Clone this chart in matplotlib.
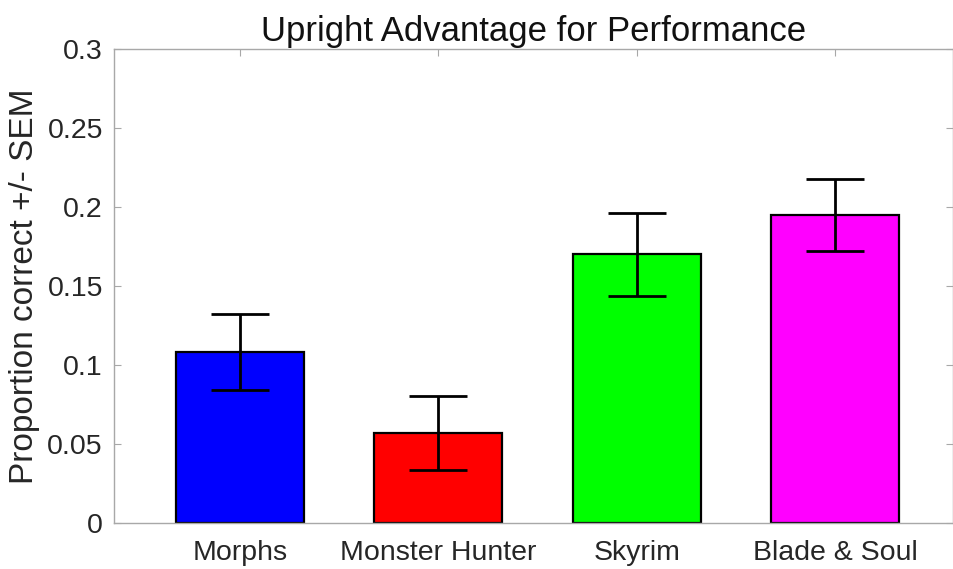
import matplotlib.pyplot as plt
import numpy as np

plt.rcParams['font.family'] = ['Liberation Sans', 'DejaVu Sans']

categories = ['Morphs', 'Monster Hunter', 'Skyrim', 'Blade & Soul']
values = [0.108, 0.057, 0.170, 0.195]
sem = [0.024, 0.0235, 0.0265, 0.023]
colors = ['#0000ff', '#ff0000', '#00ff00', '#ff00ff']
yticks = [0, 0.05, 0.1, 0.15, 0.2, 0.25, 0.3]
ytick_labels = ['0', '0.05', '0.1', '0.15', '0.2', '0.25', '0.3']

fig = plt.figure(figsize=(9.54, 5.69), dpi=100)
ax = fig.add_axes([0.1195, 0.0808, 0.8795, 0.8331])

x = np.arange(1, len(categories) + 1)
ax.bar(x, values, width=0.646, color=colors, edgecolor='black', linewidth=1.6, zorder=2)
ax.errorbar(x, values, yerr=sem, fmt='none', ecolor='black', elinewidth=2,
            capsize=21, capthick=2, zorder=3)

ax.set_xlim(0.364, 4.596)
ax.set_ylim(0, 0.3)
ax.set_xticks(x)
ax.set_xticklabels(categories)
ax.set_yticks(yticks)
ax.set_yticklabels(ytick_labels)

for s in ax.spines.values():
    s.set_color('#a8a8a8')
    s.set_linewidth(1.0)
ax.tick_params(direction='in', length=5, width=0.8, color='#a8a8a8',
               labelsize=20.5, labelcolor='#262626', top=True, right=True)
ax.tick_params(axis='y', pad=8)
ax.tick_params(axis='x', pad=12)

ax.set_ylabel('Proportion correct +/- SEM', fontsize=24, color='#262626', labelpad=5)
ax.set_title('Upright Advantage for Performance', fontsize=25, color='#111111', pad=6)

fig.savefig('out.png', dpi=100)
